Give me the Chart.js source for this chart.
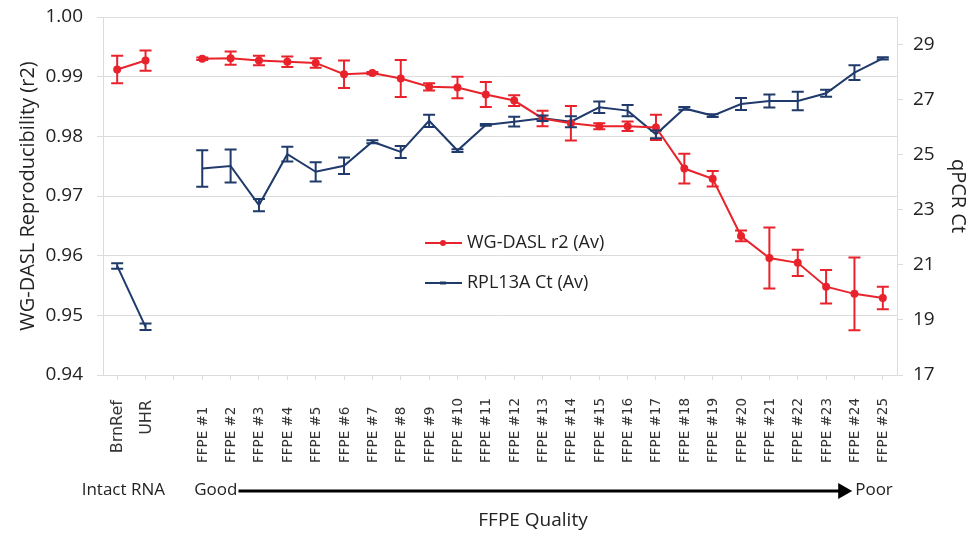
<!DOCTYPE html>
<html>
<head>
<meta charset="utf-8">
<script src="https://cdn.jsdelivr.net/npm/chart.js@4"></script>
<style>
  html, body { margin: 0; padding: 0; background: #fff; }
  #wrap { width: 970px; height: 535px; }
</style>
</head>
<body>
<div id="wrap"><canvas id="chart" width="970" height="535"></canvas></div>
<script>
'use strict'

const categories = ['BrnRef', 'UHR', '',
  'FFPE #1', 'FFPE #2', 'FFPE #3', 'FFPE #4', 'FFPE #5', 'FFPE #6', 'FFPE #7', 'FFPE #8', 'FFPE #9',
  'FFPE #10', 'FFPE #11', 'FFPE #12', 'FFPE #13', 'FFPE #14', 'FFPE #15', 'FFPE #16', 'FFPE #17',
  'FFPE #18', 'FFPE #19', 'FFPE #20', 'FFPE #21', 'FFPE #22', 'FFPE #23', 'FFPE #24', 'FFPE #25']

// WG-DASL r2 (Av), left axis
const r2Values = [0.9912, 0.9927, null,
  0.9930, 0.9931, 0.9927, 0.9925, 0.9923, 0.9904, 0.9906, 0.9897, 0.9883,
  0.9882, 0.9870, 0.9860, 0.9830, 0.9822, 0.9817, 0.9817, 0.9815,
  0.9746, 0.9729, 0.9633, 0.9596, 0.9588, 0.9548, 0.9536, 0.9529]
const r2Errors = [0.0023, 0.0017, null,
  0.0002, 0.0011, 0.0008, 0.0009, 0.0008, 0.0023, 0.0002, 0.0031, 0.0006,
  0.0018, 0.0021, 0.0009, 0.0013, 0.0029, 0.0005, 0.0008, 0.0021,
  0.0025, 0.0013, 0.0009, 0.0051, 0.0022, 0.0028, 0.0061, 0.0019]

// RPL13A Ct (Av), right axis
const ctValues = [20.96, 18.75, null,
  24.50, 24.59, 23.17, 25.02, 24.38, 24.60, 25.47, 25.10, 26.23,
  25.15, 26.08, 26.20, 26.32, 26.20, 26.72, 26.60, 25.74,
  26.68, 26.42, 26.84, 26.95, 26.95, 27.23, 27.98, 28.50]
const ctErrors = [0.10, 0.12, null,
  0.66, 0.60, 0.22, 0.27, 0.35, 0.30, 0.05, 0.22, 0.22,
  0.05, 0.03, 0.18, 0.10, 0.20, 0.21, 0.20, 0.14,
  0.05, 0.05, 0.22, 0.24, 0.34, 0.13, 0.27, 0.04]

const leftTicks = [0.94, 0.95, 0.96, 0.97, 0.98, 0.99, 1.00]
const rightTicks = [17, 19, 21, 23, 25, 27, 29]

const RED = '#e8232b'
const BLUE = '#1f3a6b'
const GRID = '#dcdcdc'
const TEXT = '#222'

// draws the +/- bars for each dataset that has an errors list
const errorBars = {
  id: 'errorBars',
  afterDatasetsDraw (chart) {
    const ctx = chart.ctx
    chart.data.datasets.forEach((ds, i) => {
      const meta = chart.getDatasetMeta(i)
      const yScale = chart.scales[ds.yAxisID]
      ctx.save()
      ctx.strokeStyle = ds.borderColor
      ctx.lineWidth = 2
      meta.data.forEach((pt, j) => {
        const v = ds.data[j]
        const e = ds.errors[j]
        if (v == null || e == null) return
        const top = yScale.getPixelForValue(v + e)
        const bot = yScale.getPixelForValue(v - e)
        const x = pt.x
        const cap = 6
        ctx.beginPath()
        ctx.moveTo(x, top); ctx.lineTo(x, bot)
        ctx.moveTo(x - cap, top); ctx.lineTo(x + cap, top)
        ctx.moveTo(x - cap, bot); ctx.lineTo(x + cap, bot)
        ctx.stroke()
      })
      ctx.restore()
    })
  }
}

// category labels, legend inside the plot and the quality arrow
const extras = {
  id: 'extras',
  afterDraw (chart) {
    const ctx = chart.ctx
    const area = chart.chartArea
    const x = chart.scales.x
    ctx.save()

    // rotated category labels: reference ones hang from the top, FFPE ones sit on a baseline
    ctx.fillStyle = '#333'
    ctx.textBaseline = 'middle'
    categories.forEach((c, i) => {
      if (!c) return
      ctx.save()
      const px = x.getPixelForValue(i)
      if (i < 2) {
        ctx.font = '16px "DejaVu Sans"'
        ctx.translate(px + 1, 400)
        ctx.rotate(-Math.PI / 2)
        ctx.textAlign = 'right'
      } else {
        ctx.font = '13.5px "DejaVu Sans"'
        ctx.translate(px + 1, 463)
        ctx.rotate(-Math.PI / 2)
        ctx.textAlign = 'left'
      }
      ctx.fillText(c, 0, 0)
      ctx.restore()
    })

    // legend
    const lx = area.left + 322
    const ly = area.top + 226
    ctx.lineWidth = 2
    ctx.strokeStyle = RED
    ctx.beginPath(); ctx.moveTo(lx, ly); ctx.lineTo(lx + 37, ly); ctx.stroke()
    ctx.fillStyle = RED
    ctx.beginPath(); ctx.arc(lx + 18, ly, 3, 0, Math.PI * 2); ctx.fill()
    ctx.strokeStyle = BLUE
    ctx.beginPath(); ctx.moveTo(lx, ly + 40); ctx.lineTo(lx + 37, ly + 40); ctx.stroke()
    ctx.lineWidth = 3
    ctx.beginPath(); ctx.moveTo(lx + 15, ly + 40); ctx.lineTo(lx + 21, ly + 40); ctx.stroke()

    ctx.fillStyle = TEXT
    ctx.font = '18px "Open Sans"'
    ctx.textBaseline = 'middle'
    ctx.textAlign = 'left'
    ctx.fillText('WG-DASL r2 (Av)', lx + 42, ly)
    ctx.fillText('RPL13A Ct (Av)', lx + 42, ly + 40)

    // bottom annotation
    const by = 490
    ctx.font = '17px "Open Sans"'
    ctx.textAlign = 'right'
    ctx.fillText('Intact RNA', 165, by)
    const goodX = x.getPixelForValue(3) - 8
    ctx.textAlign = 'left'
    ctx.fillText('Good', goodX, by)
    const goodW = ctx.measureText('Good').width
    const poorX = x.getPixelForValue(27) + 10
    ctx.textAlign = 'right'
    ctx.fillText('Poor', poorX, by)
    const poorW = ctx.measureText('Poor').width
    const ax0 = goodX + goodW + 1
    const ax1 = poorX - poorW - 3
    ctx.strokeStyle = '#000'
    ctx.lineWidth = 3
    ctx.beginPath(); ctx.moveTo(ax0, by + 1); ctx.lineTo(ax1 - 10, by + 1); ctx.stroke()
    ctx.fillStyle = '#000'
    ctx.beginPath()
    ctx.moveTo(ax1, by + 1)
    ctx.lineTo(ax1 - 14, by - 7)
    ctx.lineTo(ax1 - 14, by + 9)
    ctx.closePath()
    ctx.fill()

    ctx.fillStyle = TEXT
    ctx.font = '19px "Open Sans"'
    ctx.textAlign = 'center'
    ctx.fillText('FFPE Quality', 533, 521)
    ctx.restore()
  }
}

// fixed axis boxes so the plot area matches the picture
const fitVertical = width => s => {
  s.width = width
  s.paddingTop = 0
  s.paddingBottom = 0
}

const ctx = document.getElementById('chart')
const myChart = new Chart(ctx, {
  type: 'line',
  data: {
    labels: categories,
    datasets: [{
      label: 'WG-DASL r2 (Av)',
      data: r2Values,
      errors: r2Errors,
      yAxisID: 'y',
      borderColor: RED,
      backgroundColor: RED,
      borderWidth: 2,
      pointRadius: 3,
      pointHoverRadius: 3,
      tension: 0
    }, {
      label: 'RPL13A Ct (Av)',
      data: ctValues,
      errors: ctErrors,
      yAxisID: 'y1',
      borderColor: BLUE,
      backgroundColor: BLUE,
      borderWidth: 2,
      pointRadius: 0,
      tension: 0
    }]
  },
  options: {
    responsive: false,
    animation: false,
    layout: { padding: { top: 17 } },
    plugins: { legend: { display: false }, tooltip: { enabled: false } },
    scales: {
      x: {
        offset: true,
        afterFit: s => {
          s.height = 160
          s.paddingLeft = 0
          s.paddingRight = 0
        },
        grid: { drawOnChartArea: false, color: GRID, tickLength: 5 },
        border: { color: GRID },
        ticks: {
          autoSkip: false,
          minRotation: 90,
          maxRotation: 90,
          color: 'rgba(0,0,0,0)',
          font: { family: '"DejaVu Sans"', size: 13 }
        }
      },
      y: {
        position: 'left',
        min: 0.94,
        max: 1.00,
        afterFit: fitVertical(103),
        afterBuildTicks: s => { s.ticks = leftTicks.map(v => ({ value: v })) },
        grid: { color: GRID, tickLength: 6 },
        border: { color: GRID },
        ticks: {
          padding: 14,
          color: TEXT,
          font: { family: '"Open Sans"', size: 19 },
          callback: v => v.toFixed(2)
        },
        title: {
          display: true,
          text: 'WG-DASL Reproducibility (r2)',
          color: TEXT,
          font: { family: '"Open Sans"', size: 20 },
          padding: { top: 16, bottom: 0 }
        }
      },
      y1: {
        position: 'right',
        min: 17,
        max: 30,
        afterFit: fitVertical(73),
        afterBuildTicks: s => { s.ticks = rightTicks.map(v => ({ value: v })) },
        grid: { drawOnChartArea: false, color: GRID, tickLength: 6 },
        border: { color: GRID },
        ticks: {
          padding: 10,
          color: TEXT,
          font: { family: '"Open Sans"', size: 19 }
        },
        title: {
          display: true,
          text: 'qPCR Ct',
          color: TEXT,
          font: { family: '"Open Sans"', size: 20 },
          padding: { top: 0, bottom: 0 }
        }
      }
    }
  },
  plugins: [errorBars, extras]
})
</script>
</body>
</html>
